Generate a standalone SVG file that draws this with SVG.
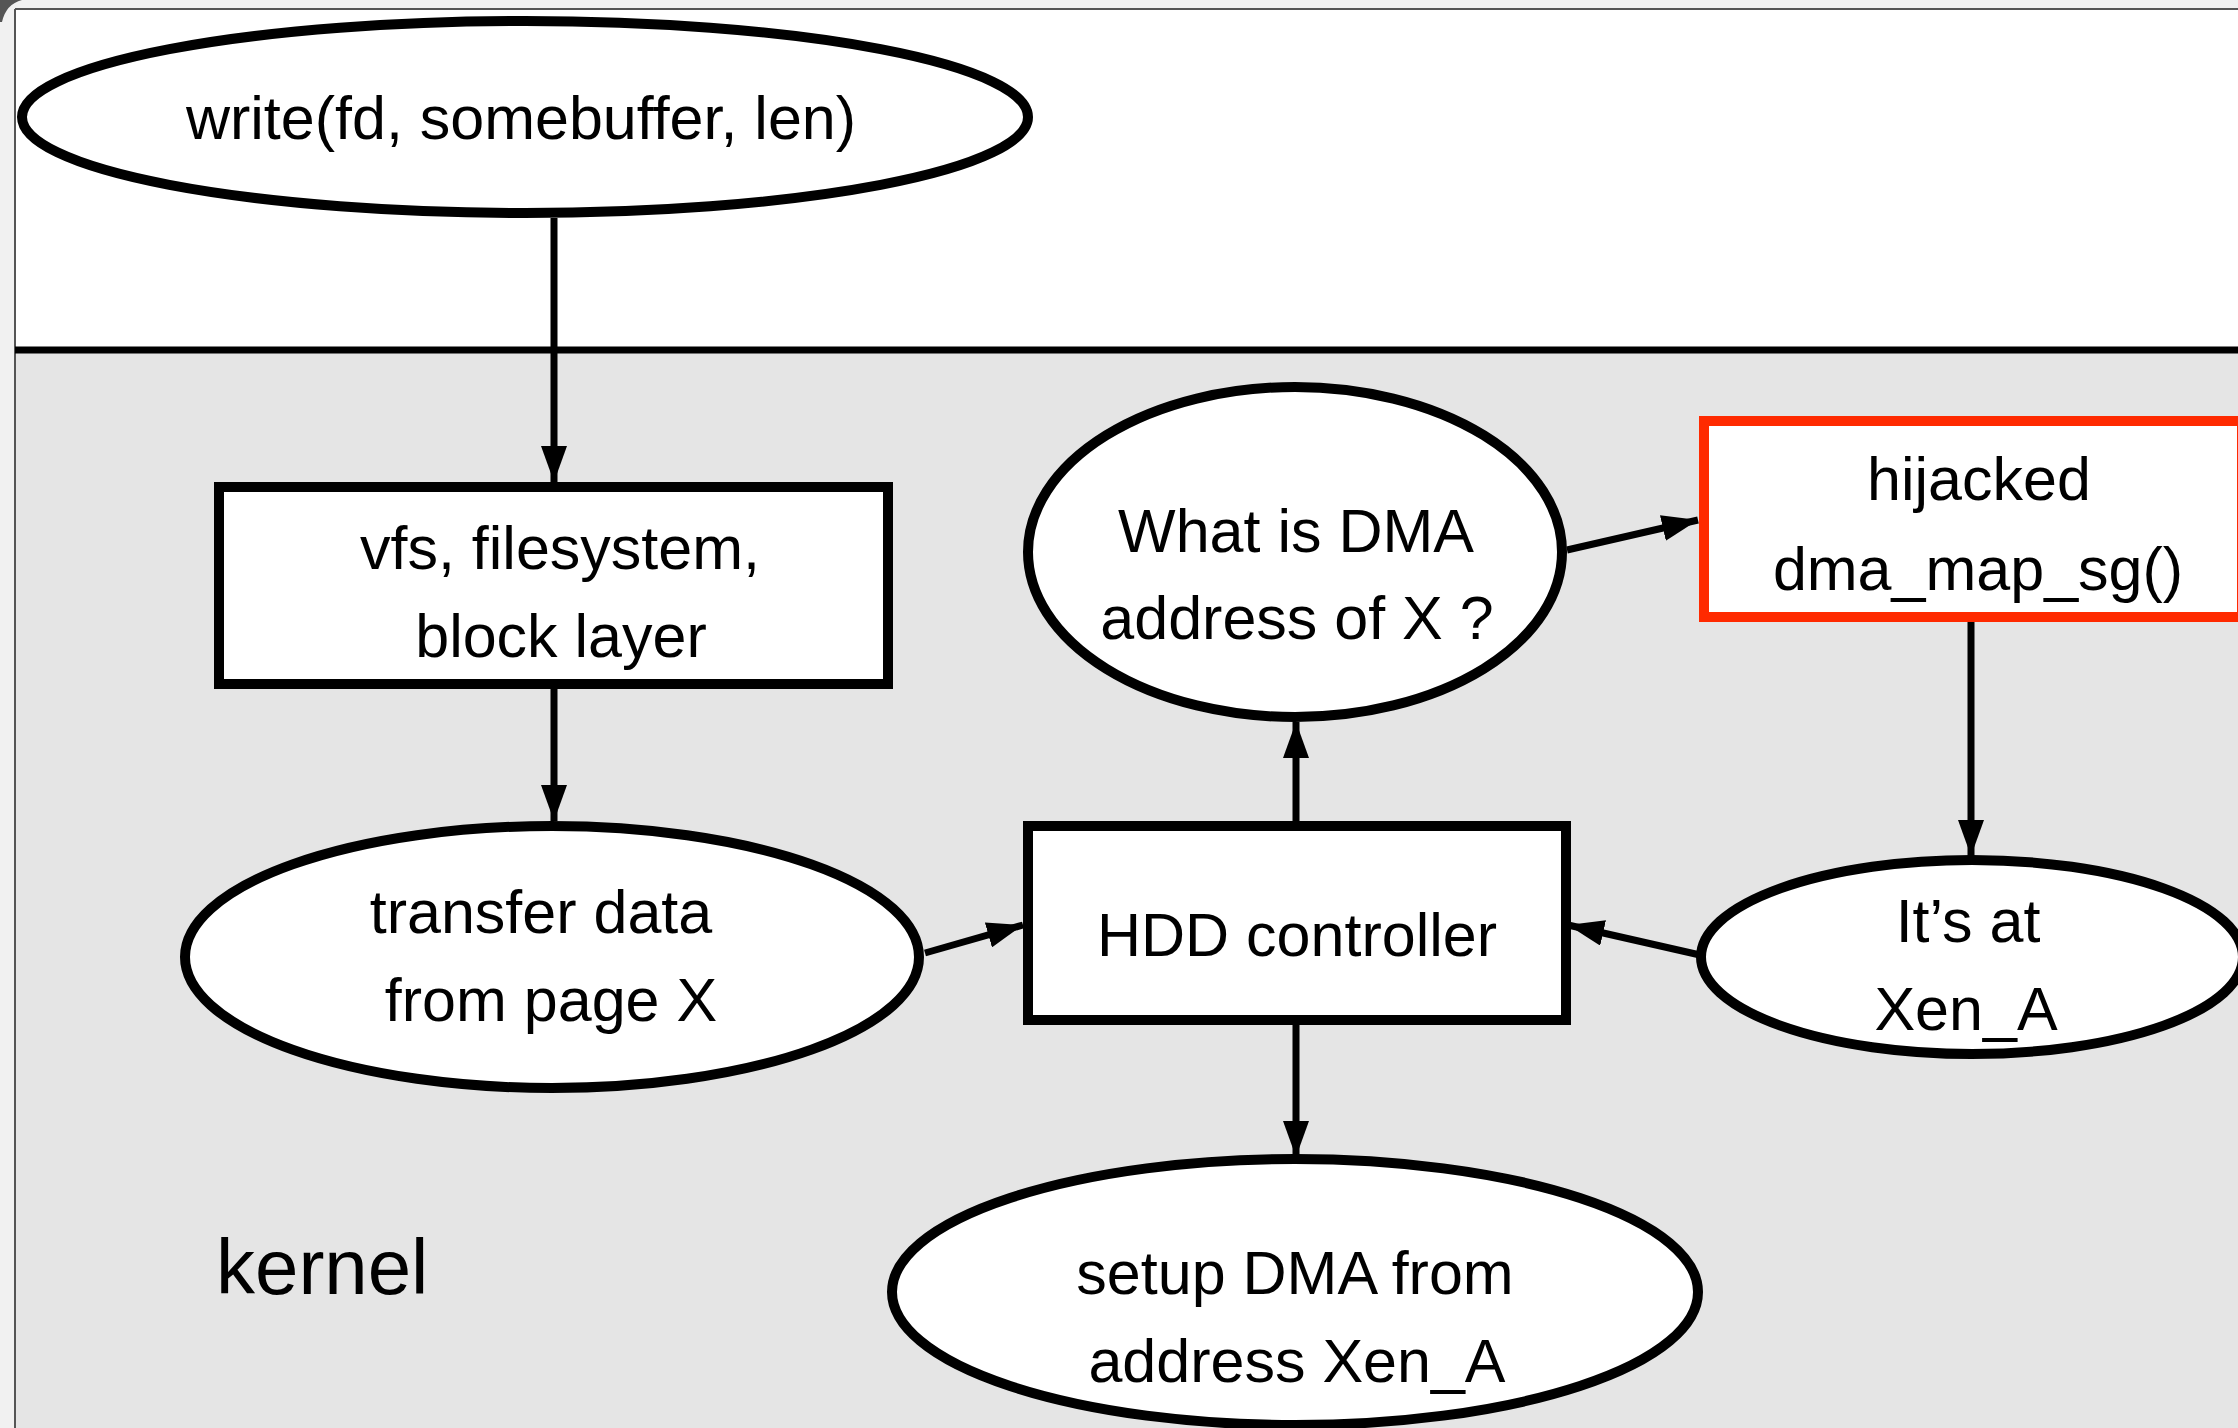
<svg xmlns="http://www.w3.org/2000/svg" width="2238" height="1428" viewBox="0 0 2238 1428">
<defs>
<style>
.node{fill:#ffffff;stroke:#000000;stroke-width:10}
.red{fill:#ffffff;stroke:#ff2a00;stroke-width:10}
.lbl{font-family:"Liberation Sans",Arial,Helvetica,sans-serif;font-size:61px;fill:#000000;text-anchor:middle}
.conn{stroke:#000000;stroke-width:7;fill:none;marker-end:url(#arr)}
</style>
<marker id="arr" markerUnits="userSpaceOnUse" markerWidth="36" markerHeight="26" refX="36" refY="13" orient="auto">
<path d="M0,0 L36,13 L0,26 z" fill="#000000"/>
</marker>
</defs>
<rect x="0" y="0" width="2238" height="1428" fill="#f1f1f1"/>
<rect x="15" y="9" width="2223" height="1419" fill="#ffffff"/>
<rect x="15" y="350" width="2223" height="1078" fill="#e5e5e5"/>
<line x1="15" y1="9" x2="2238" y2="9" stroke="#555555" stroke-width="2"/>
<line x1="15" y1="9" x2="15" y2="1428" stroke="#555555" stroke-width="2"/>
<path d="M0,0 L22,0 Q6,4 2,22 L0,22 z" fill="#555555"/>
<line x1="15" y1="350" x2="2238" y2="350" stroke="#000000" stroke-width="7"/>
<text x="216" y="1294" style="font-family:'Liberation Sans',Arial,sans-serif;font-size:78px;fill:#000000">kernel</text>

<g id="connectors">
<line class="conn" x1="554" y1="218" x2="554" y2="482"/>
<line class="conn" x1="554" y1="689" x2="554" y2="821"/>
<line class="conn" x1="925" y1="953" x2="1023" y2="925"/>
<line class="conn" x1="1296" y1="821" x2="1296" y2="722"/>
<line class="conn" x1="1567" y1="550" x2="1698" y2="520"/>
<line class="conn" x1="1971" y1="622" x2="1971" y2="856"/>
<line class="conn" x1="1700" y1="955" x2="1568" y2="925"/>
<line class="conn" x1="1296" y1="1025" x2="1296" y2="1157"/>
</g>

<g id="write">
<ellipse class="node" cx="525" cy="117" rx="503" ry="96"/>
<text class="lbl" x="521" y="139">write(fd, somebuffer, len)</text>
</g>
<g id="vfs">
<rect class="node" x="219" y="487" width="669" height="197"/>
<text class="lbl" x="560" y="569">vfs, filesystem,</text>
<text class="lbl" x="561" y="657">block layer</text>
</g>
<g id="transfer">
<ellipse class="node" cx="552" cy="957" rx="367" ry="131"/>
<text class="lbl" x="541" y="933">transfer data</text>
<text class="lbl" x="551" y="1021">from page X</text>
</g>
<g id="hdd">
<rect class="node" x="1028" y="826" width="538" height="194"/>
<text class="lbl" x="1297" y="956">HDD controller</text>
</g>
<g id="whatdma">
<ellipse class="node" cx="1295" cy="552" rx="267" ry="165"/>
<text class="lbl" x="1296" y="552">What is DMA</text>
<text class="lbl" x="1297" y="639">address of X ?</text>
</g>
<g id="hijacked">
<rect class="red" x="1704" y="421" width="538" height="196"/>
<text class="lbl" x="1979" y="500">hijacked</text>
<text class="lbl" x="1978" y="590">dma_map_sg()</text>
</g>
<g id="itsat">
<ellipse class="node" cx="1972" cy="957" rx="271" ry="97"/>
<text class="lbl" x="1968" y="942">It’s at</text>
<text class="lbl" x="1966" y="1030">Xen_A</text>
</g>
<g id="setup">
<ellipse class="node" cx="1295" cy="1292" rx="403" ry="133"/>
<text class="lbl" x="1295" y="1294">setup DMA from</text>
<text class="lbl" x="1297" y="1382">address Xen_A</text>
</g>
</svg>
